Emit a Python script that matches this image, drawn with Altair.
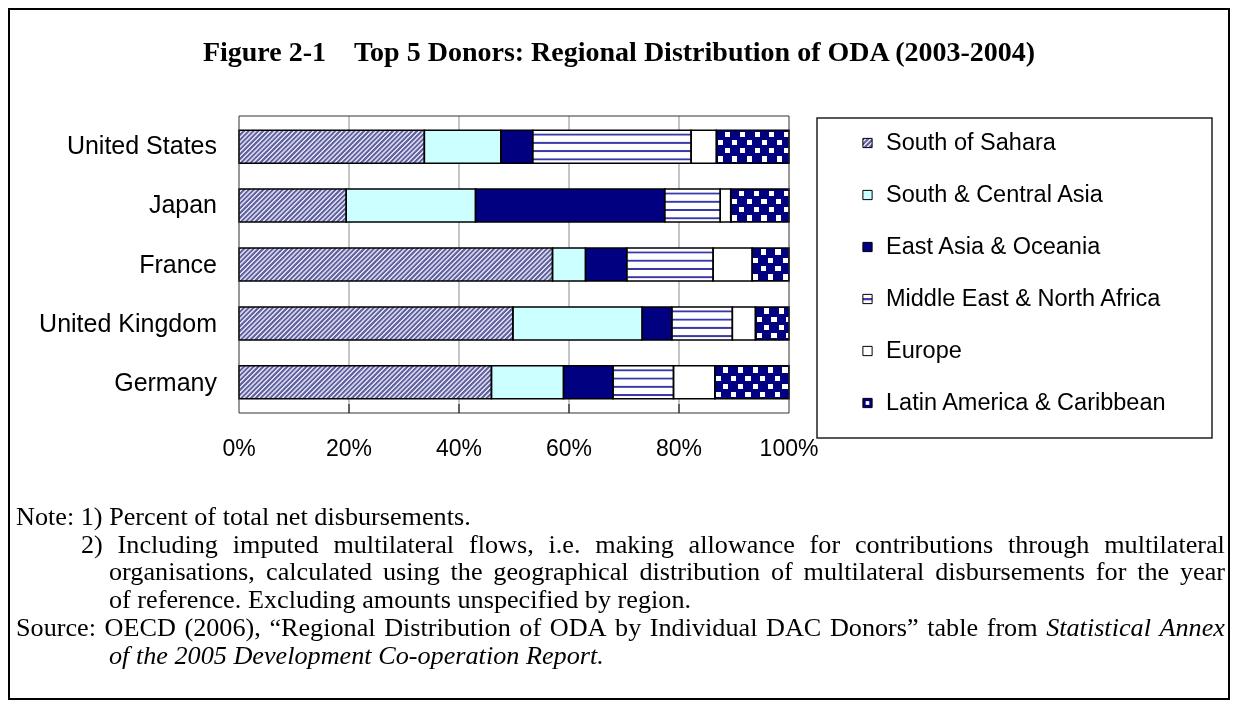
import math
import altair as alt

# ---------------- values (percent of total) ----------------
countries = ["United States", "Japan", "France", "United Kingdom", "Germany"]
regions = ["South of Sahara", "South & Central Asia", "East Asia & Oceania",
           "Middle East & North Africa", "Europe", "Latin America & Caribbean"]
south_of_sahara      = [33.7, 19.5, 57.0, 49.8, 45.9]
south_central_asia   = [13.9, 23.5,  6.0, 23.5, 13.1]
east_asia_oceania    = [ 5.8, 34.4,  7.5,  5.4,  9.0]
middle_east_n_africa = [28.8, 10.1, 15.7, 11.0, 11.0]
europe               = [ 4.6,  1.9,  7.1,  4.2,  7.5]
latin_america_carib  = [13.2, 10.6,  6.7,  6.1, 13.5]
x_ticks       = [0.0, 0.2, 0.4, 0.6, 0.8, 1.0]
x_tick_labels = ["0%", "20%", "40%", "60%", "80%", "100%"]

title_text = "Figure 2-1\u00a0\u00a0\u00a0\u00a0Top 5 Donors: Regional Distribution of ODA (2003-2004)"
# words starting with "_" are italic
note_lines = [
    "Note: 1) Percent of total net disbursements.",
    "2) Including imputed multilateral flows, i.e. making allowance for contributions through multilateral",
    "organisations, calculated using the geographical distribution of multilateral disbursements for the year",
    "of reference. Excluding amounts unspecified by region.",
    "Source: OECD (2006), \u201cRegional Distribution of ODA by Individual DAC Donors\u201d table from _Statistical _Annex",
    "_of _the _2005 _Development _Co-operation _Report.",
]

# ---------------- layout (page pixel coordinates) ----------------
PAD = 1
OFF = 8 + PAD
def px(v):
    return v - OFF

CW, CH = 1238 - 16 - 2 * PAD, 708 - 16 - 2 * PAD
PX0, PX1 = px(239), px(789)
PY0, PY1 = px(116), px(413)
P_IN, P_OUT = 0.44, 0.24
STEP = (PY1 - PY0) / (len(countries) - P_IN + 2 * P_OUT)
BAR_H = STEP * (1 - P_IN)
PLOT_W = PX1 - PX0

SANS = "Liberation Sans"
SERIF = "Liberation Serif"
NOTE_FS = 26.2
note_layout = [(16, 517, False), (81, 545, True), (109, 572, True),
               (109, 600, False), (16, 628, True), (109, 656, False)]
NOTE_RIGHT = 1225

# Times metrics (Liberation Serif is metric compatible)
TIMES_R = {' ': 250, '!': 333, '(': 333, ')': 333, ',': 250, '-': 333, '.': 250, ':': 278,
           ';': 278, '\u201c': 444, '\u201d': 444, '%': 833, '&': 778, '/': 278}
for d in "0123456789":
    TIMES_R[d] = 500
TIMES_R.update(dict(zip("ABCDEFGHIJKLMNOPQRSTUVWXYZ",
                        [722, 667, 667, 722, 611, 556, 722, 722, 333, 389, 722, 611, 889,
                         722, 722, 556, 722, 667, 556, 611, 722, 722, 944, 722, 722, 611])))
TIMES_R.update(dict(zip("abcdefghijklmnopqrstuvwxyz",
                        [444, 500, 444, 500, 444, 333, 500, 500, 278, 278, 500, 278, 778,
                         500, 500, 500, 500, 333, 389, 278, 500, 500, 722, 500, 500, 444])))
TIMES_I = dict(TIMES_R)
TIMES_I.update({'a': 500, 'f': 278, 'k': 444, 'm': 722, 'r': 389, 'v': 444, 'w': 667,
                'x': 444, 'y': 444, 'z': 389, 'A': 611, 'R': 611, 'S': 500, 'N': 667,
                'P': 611, 'D': 722, 'C': 667})

def text_w(s, size, italic=False):
    tab = TIMES_I if italic else TIMES_R
    return sum(tab.get(ch, 500) for ch in s) * size / 1000.0

word_recs = []
for line, (x0, y0, just) in zip(note_lines, note_layout):
    ws = [(w[1:], True) if w.startswith("_") else (w, False) for w in line.split(" ")]
    widths = [text_w(w, NOTE_FS, it) for w, it in ws]
    if just:
        gap = (NOTE_RIGHT - x0 - sum(widths)) / (len(ws) - 1)
    else:
        gap = text_w(" ", NOTE_FS)
    x = x0
    for (w, it), wd in zip(ws, widths):
        word_recs.append({"w": w, "x": px(x), "y": px(y0), "it": it})
        x += wd + gap

# ---------------- fill patterns (gradients) ----------------
NAVY = "#000080"
CYAN = "#ccffff"

def periodic_stops(n, pattern):
    stops, k, done = [], 0, False
    while not done:
        for f, c in pattern:
            off = (k + f) / n
            if off >= 1.0:
                stops.append({"offset": 1.0, "color": c})
                done = True
                break
            stops.append({"offset": round(off, 5), "color": c})
        k += 1
    return stops

def diag_hatch(w, h, period, pattern):
    r = h / w
    k = (1 + r) / (1 + r * r)
    length = (w + h) / math.sqrt(2)
    return {"gradient": "linear", "x1": 0, "y1": 0, "x2": k, "y2": k * r,
            "stops": periodic_stops(length / period, pattern)}

def along_x(w, period, pattern):
    return {"gradient": "linear", "x1": 0, "y1": 0, "x2": 1, "y2": 0,
            "stops": periodic_stops(w / period, pattern)}

def along_y(h, period, pattern):
    return {"gradient": "linear", "x1": 0, "y1": 0, "x2": 0, "y2": 1,
            "stops": periodic_stops(h / period, pattern)}

SOS_D, SOS_L = "#62629f", "#dadaee"
SOS_PAT = [(0, SOS_D), (0.4, SOS_D), (0.55, SOS_L), (0.85, SOS_L), (1, SOS_D)]
MENA_PAT = [(0, "#ffffff"), (0.36, "#ffffff"), (0.42, "#b4b4e6"), (0.47, "#3a3aa6"),
            (0.61, "#3a3aa6"), (0.66, "#b4b4e6"), (0.72, "#ffffff"), (1, "#ffffff")]
BW_PAT = [(0, "#000000"), (0.5, "#000000"), (0.5, "#ffffff"), (1, "#ffffff")]
ROW_GAP = [(0, "#000000"), (0.18, "#000000"), (0.18, "#ffffff"), (0.82, "#ffffff"),
           (0.82, "#000000"), (1, "#000000")]
COL_GAP = [(0, "#000000"), (0.15, "#000000"), (0.15, "#ffffff"), (0.85, "#ffffff"),
           (0.85, "#000000"), (1, "#000000")]
CELL_W = 7.4
CELL_H = BAR_H / 4

series = [south_of_sahara, south_central_asia, east_asia_oceania,
          middle_east_n_africa, europe, latin_america_carib]
records = []
for i, c in enumerate(countries):
    total = sum(s[i] for s in series)
    for k, r in enumerate(regions):
        v = series[k][i]
        w = v / total * PLOT_W
        fb = fd = fe = fc = "none"
        if k == 0:
            fa = diag_hatch(w, BAR_H, 3.4, SOS_PAT)
        elif k == 1:
            fa = CYAN
        elif k == 2:
            fa = NAVY
        elif k == 3:
            fa = along_y(BAR_H, BAR_H / 4, MENA_PAT)
        elif k == 4:
            fa = "#ffffff"
        else:
            fa = along_x(w, 2 * CELL_W, BW_PAT)          # columns
            fb = along_y(BAR_H, 2 * CELL_H, BW_PAT)      # rows -> checkerboard (difference)
            fd = along_y(BAR_H, CELL_H, ROW_GAP)          # navy gaps between rows (multiply)
            fe = along_x(w, CELL_W, COL_GAP)              # navy gaps between columns (multiply)
            fc = NAVY                                     # black -> navy (lighten)
        records.append({"country": c, "region": r, "k": k, "value": v,
                        "fa": fa, "fb": fb, "fd": fd, "fe": fe, "fc": fc})

legend_fills = [
    diag_hatch(9, 9, 3.4, SOS_PAT),
    CYAN,
    NAVY,
    along_y(9, 9, [(0, "#ffffff"), (0.36, "#ffffff"), (0.42, "#4040a8"), (0.62, "#4040a8"),
                   (0.68, "#ffffff"), (1, "#ffffff")]),
    "#ffffff",
    {"gradient": "radial", "x1": 0.5, "y1": 0.5, "r1": 0, "x2": 0.5, "y2": 0.5, "r2": 0.5,
     "stops": [{"offset": 0, "color": "#ffffff"}, {"offset": 0.45, "color": "#ffffff"},
               {"offset": 0.5, "color": NAVY}, {"offset": 1, "color": NAVY}]},
]
legend_recs = [{"region": r, "lf": f} for r, f in zip(regions, legend_fills)]

# ---------------- scales ----------------
x_scale = alt.Scale(domain=[0, 1], range=[PX0, PX1], nice=False, zero=False)
y_scale = alt.Scale(domain=countries, range=[PY0, PY1], paddingInner=P_IN, paddingOuter=P_OUT)
leg_scale = alt.Scale(type="point", domain=regions, range=[px(143), px(403)], padding=0)

bars = alt.Chart(alt.Data(values=records))
bar_enc = dict(
    x=alt.X("value:Q", stack="normalize", scale=x_scale, axis=None),
    y=alt.Y("country:N", scale=y_scale, axis=None),
    detail="region:N",
    order=alt.Order("k:Q", sort="ascending"),
)

def fill_layer(field, blend=None):
    kw = {"strokeWidth": 0}
    if blend:
        kw["blend"] = blend
    return bars.mark_bar(**kw).encode(fill=alt.Fill(field + ":N", scale=None, legend=None), **bar_enc)

layer_a = fill_layer("fa")
layer_b = fill_layer("fb", "difference")
layer_d = fill_layer("fd", "multiply")
layer_e = fill_layer("fe", "multiply")
layer_c = fill_layer("fc", "lighten")
outline = bars.mark_bar(fill="transparent", stroke="black", strokeWidth=1.5).encode(**bar_enc)

grid_data = alt.Data(values=[{"t": t} for t in x_ticks[1:-1]])
grid = alt.Chart(grid_data).mark_rule(color="#8c8c8c", strokeWidth=1).encode(
    x=alt.X("t:Q", scale=x_scale, axis=None), y=alt.value(PY0), y2=alt.value(PY1))
ticks = alt.Chart(grid_data).mark_rule(color="black", strokeWidth=1).encode(
    x=alt.X("t:Q", scale=x_scale, axis=None), y=alt.value(PY1 - 9), y2=alt.value(PY1))
frame = alt.Chart(alt.Data(values=[{}])).mark_rect(
    fill="transparent", stroke="#333333", strokeWidth=1).encode(
    x=alt.value(PX0), x2=alt.value(PX1), y=alt.value(PY0), y2=alt.value(PY1))

xlab = alt.Chart(alt.Data(values=[{"t": t, "lab": l} for t, l in zip(x_ticks, x_tick_labels)])).mark_text(
    font=SANS, fontSize=23, align="center", baseline="middle", color="black").encode(
    x=alt.X("t:Q", scale=x_scale, axis=None), y=alt.value(px(449)), text="lab:N")
ylab = alt.Chart(alt.Data(values=[{"country": c} for c in countries])).mark_text(
    font=SANS, fontSize=25, align="right", baseline="middle", color="black").encode(
    y=alt.Y("country:N", scale=y_scale, axis=None), x=alt.value(px(217)), text="country:N")

leg_box = alt.Chart(alt.Data(values=[{}])).mark_rect(
    fill="white", stroke="#222222", strokeWidth=1.5).encode(
    x=alt.value(px(817)), x2=alt.value(px(1212)), y=alt.value(px(118)), y2=alt.value(px(438)))
swatch = alt.Chart(alt.Data(values=legend_recs)).mark_square(
    size=85, opacity=1, stroke="black", strokeWidth=1).encode(
    x=alt.value(px(867.5)), y=alt.Y("region:N", scale=leg_scale, axis=None),
    fill=alt.Fill("lf:N", scale=None, legend=None))
leg_text = alt.Chart(alt.Data(values=legend_recs)).mark_text(
    font=SANS, fontSize=23.5, align="left", baseline="middle", color="black").encode(
    x=alt.value(px(886)), y=alt.Y("region:N", scale=leg_scale, axis=None), text="region:N")

title = alt.Chart(alt.Data(values=[{"t": title_text}])).mark_text(
    font=SERIF, fontSize=28, fontWeight="bold", align="center", baseline="middle", color="black").encode(
    x=alt.value(px(619)), y=alt.value(px(53)), text="t:N")

words_n = alt.Chart(alt.Data(values=[r for r in word_recs if not r["it"]])).mark_text(
    font=SERIF, fontSize=NOTE_FS, align="left", baseline="middle", color="black").encode(
    x=alt.X("x:Q", scale=None, axis=None), y=alt.Y("y:Q", scale=None, axis=None), text="w:N")
words_i = alt.Chart(alt.Data(values=[r for r in word_recs if r["it"]])).mark_text(
    font=SERIF, fontSize=NOTE_FS, fontStyle="italic", align="left", baseline="middle", color="black").encode(
    x=alt.X("x:Q", scale=None, axis=None), y=alt.Y("y:Q", scale=None, axis=None), text="w:N")

chart = alt.layer(
    grid, layer_a, layer_b, layer_d, layer_e, layer_c, outline, ticks, frame, xlab, ylab,
    leg_box, swatch, leg_text, title, words_n, words_i
).resolve_scale(x="independent", y="independent").properties(
    width=CW, height=CH, padding=PAD, autosize="none", background="white"
).configure_view(stroke="black", strokeWidth=2)

chart.save("out.html", embed_options={"renderer": "svg", "actions": False})
